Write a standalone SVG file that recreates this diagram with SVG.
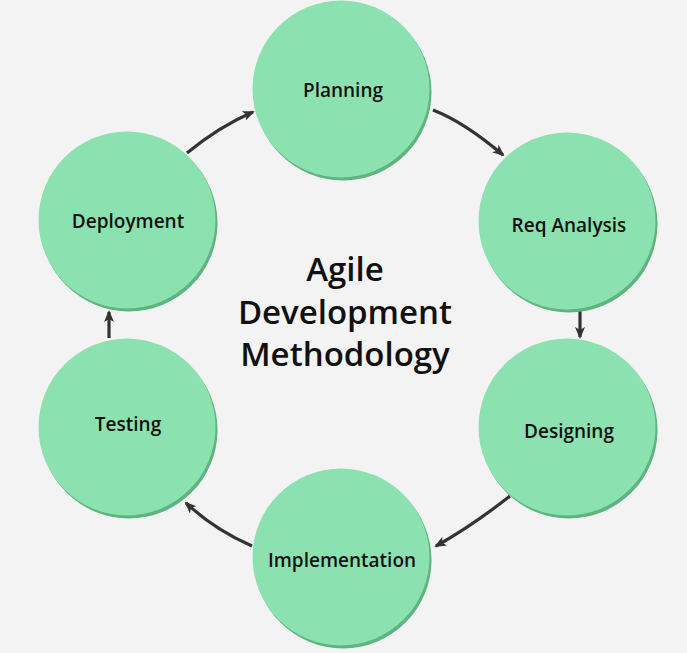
<svg xmlns="http://www.w3.org/2000/svg" width="687" height="653" viewBox="0 0 687 653">
<style>
.sh{fill:#5db47f}
.c{fill:#8ce1b0}
.lbl{font-family:"Open Sans","Noto Sans",sans-serif;font-size:19px;font-weight:600;fill:#111;text-anchor:middle}
.title{font-family:"Open Sans","Noto Sans",sans-serif;font-size:33px;font-weight:600;fill:#111;text-anchor:middle}
.arr{fill:none;stroke:#333;stroke-width:3.2;marker-end:url(#ah)}
</style>
<defs>
<marker id="ah" viewBox="0 0 12 10" refX="10" refY="5" markerWidth="12" markerHeight="10" markerUnits="userSpaceOnUse" orient="auto">
<path d="M0,0 L12,5 L0,10 L3,5 Z" fill="#333"/>
</marker>
</defs>
<rect width="687" height="653" fill="#f3f3f3"/>
<g id="connectors">
<path class="arr" d="M433,110 Q464,122 503,155"/>
<path class="arr" d="M580,311 L580,337"/>
<path class="arr" d="M510,496 Q472,526 436,546"/>
<path class="arr" d="M252,546 Q215,530 186,503"/>
<path class="arr" d="M109,338 L109,312"/>
<path class="arr" d="M187,153 Q220,126 253,112"/>
</g>
<g id="planning"><circle class="sh" cx="343" cy="92" r="88.5"/><circle class="c" cx="341" cy="89" r="88.5"/><text class="lbl" x="343" y="97">Planning</text></g>
<g id="req-analysis"><circle class="sh" cx="569" cy="224" r="88.5"/><circle class="c" cx="567" cy="221" r="88.5"/><text class="lbl" x="569" y="232">Req Analysis</text></g>
<g id="designing"><circle class="sh" cx="569" cy="430" r="88.5"/><circle class="c" cx="567" cy="427" r="88.5"/><text class="lbl" x="569" y="438">Designing</text></g>
<g id="implementation"><circle class="sh" cx="343" cy="560" r="88.5"/><circle class="c" cx="341" cy="557" r="88.5"/><text class="lbl" x="342" y="567">Implementation</text></g>
<g id="testing"><circle class="sh" cx="129" cy="430" r="88.5"/><circle class="c" cx="127" cy="427" r="88.5"/><text class="lbl" x="128" y="431">Testing</text></g>
<g id="deployment"><circle class="sh" cx="129" cy="223" r="88.5"/><circle class="c" cx="127" cy="220" r="88.5"/><text class="lbl" x="128" y="228">Deployment</text></g>
<g id="title">
<text class="title" x="345" y="281">Agile</text>
<text class="title" x="345" y="324">Development</text>
<text class="title" x="345" y="366">Methodology</text>
</g>
</svg>
